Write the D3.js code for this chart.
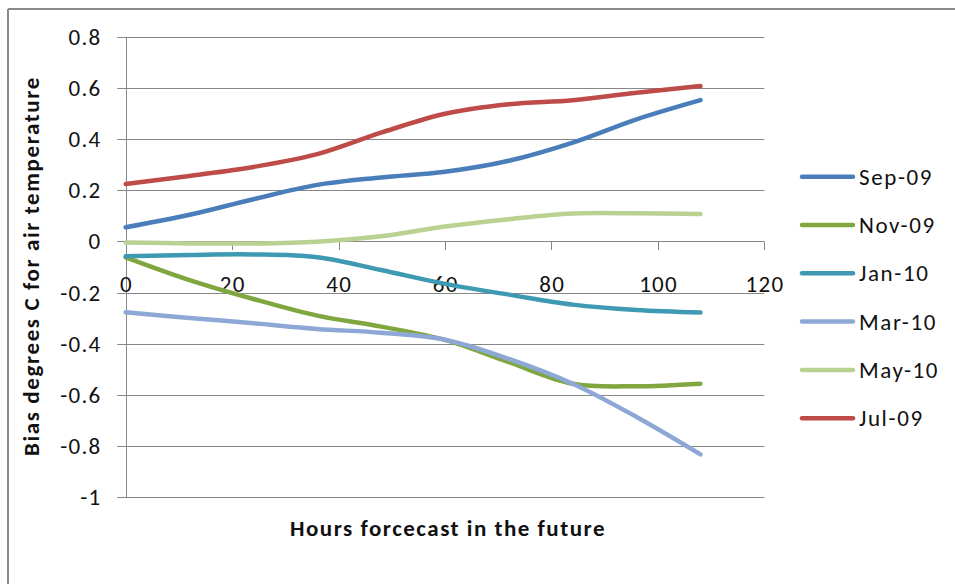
<!DOCTYPE html>
<html>
<head>
<meta charset="utf-8">
<script src="https://cdn.jsdelivr.net/npm/d3@7"></script>
<style>
  html, body { margin: 0; padding: 0; background: #fff; }
  svg { display: block; }
  text { font-family: Carlito, Calibri, Lato, sans-serif; fill: #111; }
</style>
</head>
<body>
<svg id="chart" width="955" height="584"></svg>
<script>
// Forecast lead time (hours)
const hours = [0, 12, 24, 36, 48, 60, 72, 84, 96, 108];

// Bias (degrees C) per monthly run
const sep09 = [0.055, 0.104, 0.165, 0.221, 0.250, 0.272, 0.315, 0.386, 0.477, 0.552];
const nov09 = [-0.062, -0.151, -0.225, -0.290, -0.333, -0.385, -0.472, -0.556, -0.566, -0.556];
const jan10 = [-0.058, -0.053, -0.051, -0.062, -0.112, -0.166, -0.208, -0.247, -0.268, -0.278];
const mar10 = [-0.277, -0.299, -0.320, -0.342, -0.357, -0.384, -0.459, -0.556, -0.686, -0.832];
const may10 = [-0.004, -0.008, -0.008, -0.001, 0.020, 0.058, 0.087, 0.109, 0.110, 0.107];
const jul09 = [0.224, 0.256, 0.291, 0.341, 0.425, 0.499, 0.536, 0.552, 0.581, 0.607];

const seriesNames = ["Sep-09", "Nov-09", "Jan-10", "Mar-10", "May-10", "Jul-09"];
const seriesValues = [sep09, nov09, jan10, mar10, may10, jul09];
const seriesColors = ["#4a7ebb", "#7fa63f", "#3d9ab2", "#8ea8d6", "#b9d191", "#be4b48"];

const xTicks = [0, 20, 40, 60, 80, 100, 120];
const yTicks = [0.8, 0.6, 0.4, 0.2, 0, -0.2, -0.4, -0.6, -0.8, -1];
const yTickLabels = ["0.8", "0.6", "0.4", "0.2", "0", "-0.2", "-0.4", "-0.6", "-0.8", "-1"];

const xTitle = "Hours forcecast in the future";
const yTitle = "Bias degrees C for air temperature";

const svg = d3.select("#chart");

// Outer chart frame (only top and left edges fall inside the view)
svg.append("line").attr("x1", 8).attr("x2", 955).attr("y1", 9).attr("y2", 9)
  .attr("stroke", "#8a8a8a").attr("stroke-width", 2);
svg.append("line").attr("x1", 8).attr("x2", 8).attr("y1", 9).attr("y2", 584)
  .attr("stroke", "#8a8a8a").attr("stroke-width", 2);

const x = d3.scaleLinear().domain([0, 120]).range([125.7, 764.3]);
const y = d3.scaleLinear().domain([-1, 0.8]).range([497.3, 36.7]);

const gridColor = "#878787";

// Horizontal gridlines with left tick stubs
const grid = svg.append("g");
grid.selectAll("line").data(yTicks).join("line")
  .attr("x1", x(0) - 8.5).attr("x2", x(120))
  .attr("y1", d => Math.round(y(d)) + 0.5).attr("y2", d => Math.round(y(d)) + 0.5)
  .attr("stroke", gridColor).attr("stroke-width", 1);

// Vertical value axis line
svg.append("line")
  .attr("x1", Math.round(x(0)) + 0.5).attr("x2", Math.round(x(0)) + 0.5)
  .attr("y1", y(0.8)).attr("y2", y(-1))
  .attr("stroke", gridColor).attr("stroke-width", 1);

// Y tick labels
svg.append("g").selectAll("text").data(yTicks).join("text")
  .attr("x", 101.5).attr("y", d => y(d))
  .attr("dy", "0.35em")
  .attr("text-anchor", "end")
  .attr("font-size", 23)
  .attr("letter-spacing", 1.3)
  .text((d, i) => yTickLabels[i]);

// Category axis crosses at zero: tick marks hang below it
const y0 = Math.round(y(0)) + 0.5;
svg.append("g").selectAll("line").data(xTicks).join("line")
  .attr("x1", d => Math.round(x(d)) + 0.5).attr("x2", d => Math.round(x(d)) + 0.5)
  .attr("y1", y0).attr("y2", y0 + 8.5)
  .attr("stroke", gridColor).attr("stroke-width", 1);

svg.append("g").selectAll("text").data(xTicks).join("text")
  .attr("x", d => x(d) + 0.7).attr("y", 291.5)
  .attr("text-anchor", "middle")
  .attr("font-size", 23)
  .attr("letter-spacing", 1.3)
  .text(d => d);

// Series lines (smoothed)
const line = d3.line()
  .x((d, i) => x(hours[i]))
  .y(d => y(d))
  .curve(d3.curveCatmullRom.alpha(0.5));

svg.append("g").selectAll("path").data(seriesValues).join("path")
  .attr("d", d => line(d))
  .attr("fill", "none")
  .attr("stroke", (d, i) => seriesColors[i])
  .attr("stroke-width", 4.5)
  .attr("stroke-linecap", "round")
  .attr("stroke-linejoin", "round");

// Axis titles
svg.append("text")
  .attr("x", 448).attr("y", 536)
  .attr("text-anchor", "middle")
  .attr("font-size", 23).attr("font-weight", "bold")
  .attr("letter-spacing", 1.5)
  .text(xTitle);

svg.append("text")
  .attr("transform", "translate(38.5," + 266 + ") rotate(-90)")
  .attr("text-anchor", "middle")
  .attr("font-size", 23).attr("font-weight", "bold")
  .attr("letter-spacing", 1.6)
  .text(yTitle);

// Legend
const legend = svg.append("g");
const rowY = i => 176.7 + i * 48.3;
legend.selectAll("line").data(seriesNames).join("line")
  .attr("x1", 802).attr("x2", 853)
  .attr("y1", (d, i) => rowY(i)).attr("y2", (d, i) => rowY(i))
  .attr("stroke", (d, i) => seriesColors[i])
  .attr("stroke-width", 4.5)
  .attr("stroke-linecap", "round");
legend.selectAll("text").data(seriesNames).join("text")
  .attr("x", 859).attr("y", (d, i) => rowY(i))
  .attr("dy", "0.35em")
  .attr("font-size", 23)
  .attr("letter-spacing", 1.6)
  .text(d => d);
</script>
</body>
</html>
